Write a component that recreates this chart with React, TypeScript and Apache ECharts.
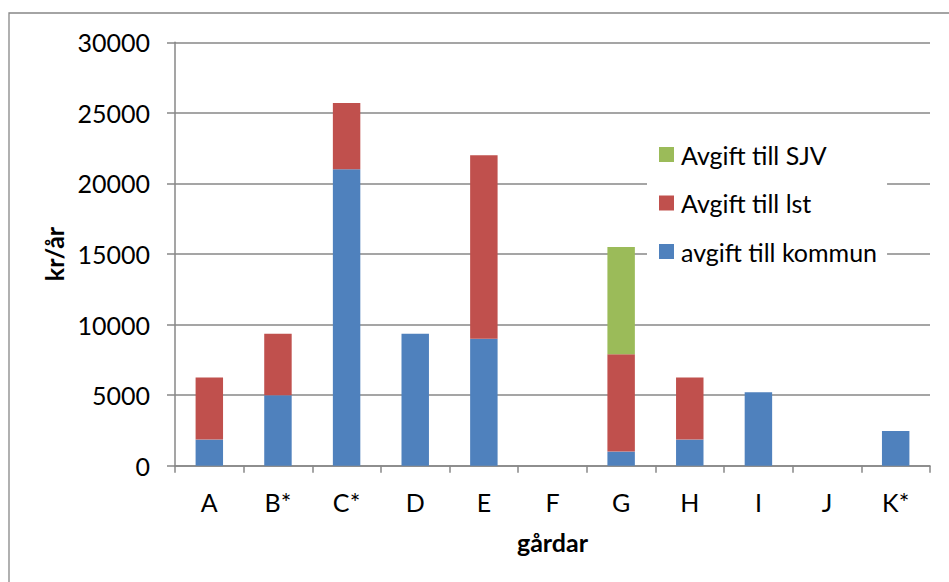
import React, { useEffect, useRef } from "react";
import * as echarts from "echarts";

const categories = ["A", "B*", "C*", "D", "E", "F", "G", "H", "I", "J", "K*"];
const kommun = [1850, 5000, 21000, 9350, 9000, 0, 1000, 1850, 5200, 0, 2450];
const lst = [4400, 4350, 4700, 0, 13000, 0, 6900, 4400, 0, 0, 0];
const sjv = [0, 0, 0, 0, 0, 0, 7600, 0, 0, 0, 0];
const seriesNames = ["avgift till kommun", "Avgift till lst", "Avgift till SJV"];
const legendOrder = ["Avgift till SJV", "Avgift till lst", "avgift till kommun"];

const FONT = "Lato";
const FS = 25;
const GRAY = "#878787";

export default function App() {
  const ref = useRef<HTMLDivElement>(null);
  useEffect(() => {
    if (!ref.current) return;
    const chart = echarts.init(ref.current, null, { renderer: "svg" });
    chart.setOption({
      animation: false,
      backgroundColor: "#ffffff",
      textStyle: { fontFamily: FONT },
      graphic: [
        {
          type: "rect",
          shape: { x: 9, y: 13, width: 1100, height: 1000 },
          style: { fill: "none", stroke: GRAY, lineWidth: 1.3 },
          silent: true,
          z: 0,
        },
      ],
      grid: { left: 175, right: 19, top: 42.3, bottom: 116.3, containLabel: false },
      legend: {
        orient: "vertical",
        left: 647,
        top: 130,
        data: legendOrder,
        backgroundColor: "#ffffff",
        padding: [12, 10, 12, 12],
        itemWidth: 15,
        itemHeight: 15,
        itemGap: 23.5,
        icon: "rect",
        textStyle: { fontFamily: FONT, fontSize: FS, color: "#000", lineHeight: FS, padding: [0, 0, 0, 2] },
        z: 10,
      },
      xAxis: {
        type: "category",
        data: categories,
        boundaryGap: true,
        name: "gårdar",
        nameLocation: "middle",
        nameGap: 64,
        nameTextStyle: { fontFamily: FONT, fontSize: FS, fontWeight: "bold", color: "#000" },
        axisLine: { show: true, lineStyle: { color: GRAY, width: 1.5 } },
        axisTick: { show: true, length: 7, alignWithLabel: false, lineStyle: { color: GRAY, width: 1.5 } },
        axisLabel: { fontFamily: FONT, fontSize: FS, color: "#000", margin: 23.5 },
        splitLine: { show: false },
      },
      yAxis: {
        type: "value",
        min: 0,
        max: 30000,
        interval: 5000,
        name: "kr/år",
        nameLocation: "middle",
        nameGap: 103,
        nameTextStyle: { fontFamily: FONT, fontSize: FS, fontWeight: "bold", color: "#000" },
        axisLine: { show: true, lineStyle: { color: GRAY, width: 1.5 } },
        axisTick: { show: true, length: 8, lineStyle: { color: GRAY, width: 1.5 } },
        axisLabel: { fontFamily: FONT, fontSize: FS, color: "#000", margin: 25, formatter: (v: number) => String(v) },
        splitLine: { show: true, lineStyle: { color: GRAY, width: 1.5 } },
      },
      series: [
        { name: seriesNames[0], type: "bar", stack: "t", data: kommun, barWidth: "40%", itemStyle: { color: "#4F81BD" } },
        { name: seriesNames[1], type: "bar", stack: "t", data: lst, barWidth: "40%", itemStyle: { color: "#C0504D" } },
        { name: seriesNames[2], type: "bar", stack: "t", data: sjv, barWidth: "40%", itemStyle: { color: "#9BBB59" } },
      ],
    });
    return () => chart.dispose();
  }, []);
  return (
    <div
      ref={ref}
      style={{ position: "fixed", left: 0, top: 0, width: 949, height: 582 }}
    />
  );
}
